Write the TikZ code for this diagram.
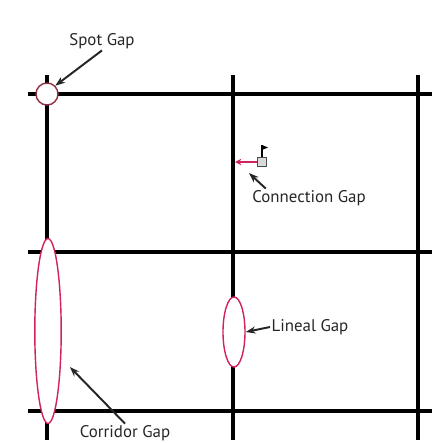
\documentclass[tikz,border=0pt]{standalone}
\usepackage{fontspec}
\setmainfont{PT Sans}
\usetikzlibrary{shapes.geometric,arrows.meta}
\definecolor{gapred}{HTML}{D0235E}
\definecolor{spotred}{HTML}{8E2F42}
\begin{document}
\begin{tikzpicture}[x=0.025cm, y=-0.025cm,
  gridline/.style={line width=2.5pt, black},
  gapring/.style={ellipse, draw=gapred, line width=1pt, fill=white, inner sep=0pt},
  lbl/.style={font=\fontsize{12}{14}\selectfont, text=black!85, inner sep=1pt},
  pointer/.style={-{Stealth[length=7pt,width=5pt]}, line width=1.4pt, black!85}]
% Picture frame in pixel units (432 x 443)
\useasboundingbox (0,0) rectangle (432,443);

% Street grid: three rows and three columns
\foreach \yy in {94, 252, 411}{
  \draw[gridline] (28,\yy) -- (432,\yy);
}
\foreach \xx in {47, 233, 418}{
  \draw[gridline] (\xx,75) -- (\xx,440);
}

% Gaps, filled white so that they cut the grid lines
\node[gapring, circle, draw=spotred, minimum size=0.55cm] (spot) at (47,94) {};
\node[gapring, minimum width=0.66cm, minimum height=4.62cm] (corridor) at (48,331) {};
\node[gapring, minimum width=0.55cm, minimum height=1.75cm] (lineal) at (234,332) {};

% Connection gap: a small box with a flag, and the missing link to the street
\node[draw=black!70, fill=black!15, line width=0.9pt, minimum size=0.22cm, inner sep=0pt] (conn) at (262,162) {};
\coordinate (pole) at (262,145);
\draw[line width=0.9pt] (conn.north) -- (pole);
\fill (pole) -- ++(6,2.5) -- ++(-6,2.5) -- cycle;
\coordinate (joint) at (235,162);
\draw[gapred, line width=1.2pt, -{Stealth[length=4.5pt,width=4.5pt]}] (conn.west) -- (joint);

% Labels and pointers
\node[lbl] (spotlbl) at (102,41) {Spot Gap};
\draw[pointer] (spotlbl.south) -- (spot.north east);

\node[lbl] (connlbl) at (309,198) {Connection Gap};
\draw[pointer] ([xshift=0.38cm]connlbl.north west) -- ([shift={(-0.2cm,-0.15cm)}]conn.south west);

\node[lbl] (lineallbl) at (310,327) {Lineal Gap};
\draw[pointer] (lineallbl.west) -- (lineal.east);

\node[lbl] (corridorlbl) at (125,433) {Corridor Gap};
\draw[pointer] (corridorlbl.north) -- ([shift={(0.2cm,-0.9cm)}]corridor.east);
\end{tikzpicture}
\end{document}
